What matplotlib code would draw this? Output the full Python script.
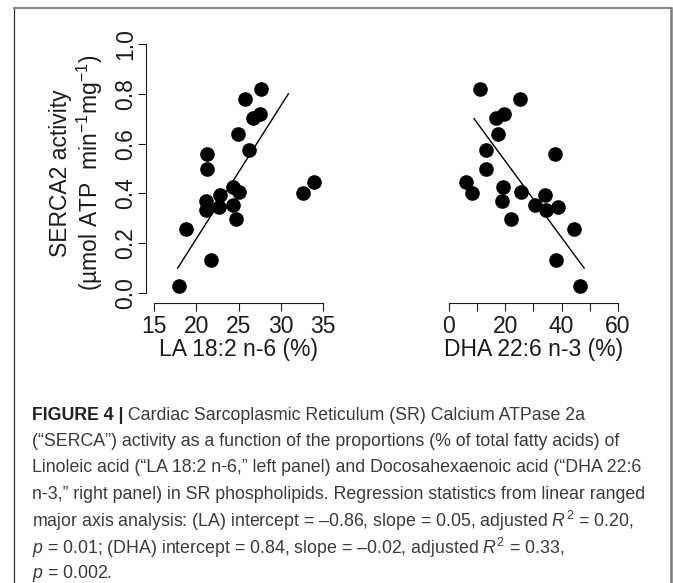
import matplotlib
matplotlib.use("Agg")
import matplotlib.pyplot as plt
from matplotlib import font_manager
from matplotlib.lines import Line2D

# SERCA2 activity, one value per sample, shared by both panels
serca = [0.03, 0.133, 0.256, 0.297, 0.334, 0.347, 0.354, 0.37, 0.395, 0.40, 0.405,
         0.427, 0.447, 0.50, 0.558, 0.574, 0.639, 0.703, 0.718, 0.78, 0.82]
# LA 18:2 n-6 (%) for the same samples
la = [18.0, 21.8, 18.75, 24.7, 21.16, 22.74, 24.3, 21.1, 22.8, 32.6, 25.0,
      24.3, 33.96, 21.3, 21.24, 26.2, 24.95, 26.7, 27.56, 25.8, 27.64]
# DHA 22:6 n-3 (%) for the same samples
dha = [46.7, 37.9, 44.3, 22.2, 34.5, 38.7, 30.4, 18.8, 34.2, 8.3, 25.6,
       19.3, 6.1, 13.2, 37.8, 13.0, 17.5, 16.6, 19.5, 25.1, 10.9]

# fitted RMA lines (end points as drawn)
la_fit_x = [17.8, 30.9]
la_fit_y = [0.10, 0.80]
dha_fit_x = [8.9, 48.0]
dha_fit_y = [0.70, 0.10]

la_ticks = [15, 20, 25, 30, 35]
dha_ticks = [0, 10, 20, 30, 40, 50, 60]
dha_ticklabels = ["0", "", "20", "", "40", "", "60"]
y_ticks = [0.0, 0.2, 0.4, 0.6, 0.8, 1.0]

caption_lines = [
    " Cardiac Sarcoplasmic Reticulum (SR) Calcium ATPase 2a",
    "(“SERCA”) activity as a function of the proportions (% of total fatty acids) of",
    "Linoleic acid (“LA 18:2 n-6,” left panel) and Docosahexaenoic acid (“DHA 22:6",
    "n-3,” right panel) in SR phospholipids. Regression statistics from linear ranged",
    r"major axis analysis: (LA) intercept = –0.86, slope = 0.05, adjusted $R^2$ = 0.20,",
    r"$p$ = 0.01; (DHA) intercept = 0.84, slope = –0.02, adjusted $R^2$ = 0.33,",
    r"$p$ = 0.002.",
]

names = {f.name for f in font_manager.fontManager.ttflist}
if "Liberation Sans Narrow" in names:
    cap_family, cap_size = "Liberation Sans Narrow", 15.6
else:
    cap_family, cap_size = "Liberation Sans", 12.8

plt.rcParams["font.family"] = ["Liberation Sans", "DejaVu Sans"]
plt.rcParams["mathtext.fontset"] = "custom"
plt.rcParams["mathtext.rm"] = "Liberation Sans"
plt.rcParams["mathtext.it"] = cap_family + ":italic"
plt.rcParams["mathtext.bf"] = "Liberation Sans:bold"

W, H = 673, 583
fig = plt.figure(figsize=(W / 100, H / 100), dpi=100)


def px_rect(left, top, width, height):
    return [left / W, 1 - (top + height) / H, width / W, height / H]


ink = "#1c1c1c"
fs = 16.5

ax1 = fig.add_axes(px_rect(146, 34, 184.2, 269))
ax2 = fig.add_axes(px_rect(442.2, 34, 182.5, 269))

ax1.plot(la, serca, "o", ms=9.5, color="black")
ax1.plot(la_fit_x, la_fit_y, color="black", lw=1.0)
ax2.plot(dha, serca, "o", ms=9.5, color="black")
ax2.plot(dha_fit_x, dha_fit_y, color="black", lw=1.0)

ax1.set_xlim(14.05, 35.85)
ax2.set_xlim(-2.4, 62.4)
for ax in (ax1, ax2):
    ax.set_ylim(-0.04, 1.04)
    ax.patch.set_visible(False)
    ax.spines["top"].set_visible(False)
    ax.spines["right"].set_visible(False)
    for s in ax.spines.values():
        s.set_linewidth(0.8)
        s.set_color(ink)
    ax.tick_params(direction="out", length=5.5, width=0.8, color=ink,
                   labelsize=fs, labelcolor=ink)
    ax.tick_params(axis="x", pad=2.8)

ax1.set_xticks(la_ticks)
ax1.spines["bottom"].set_bounds(15, 35)
ax1.spines["left"].set_bounds(0, 1)
ax1.set_yticks(y_ticks)
ax1.set_yticklabels([f"{v:.1f}" for v in y_ticks])
ax1.tick_params(axis="y", pad=1.0)
for lab in ax1.get_yticklabels():
    lab.set_rotation(90)
    lab.set_va("center")

ax2.set_xticks(dha_ticks)
ax2.set_xticklabels(dha_ticklabels)
ax2.spines["bottom"].set_bounds(0, 60)
ax2.spines["left"].set_visible(False)
ax2.set_yticks([])

ax1.set_xlabel("LA 18:2 n-6 (%)", fontsize=fs, color=ink, va="center")
ax1.xaxis.set_label_coords(0.5, -0.172)
ax2.set_xlabel("DHA 22:6 n-3 (%)", fontsize=fs, color=ink, va="center")
ax2.xaxis.set_label_coords(0.5, -0.172)

# two-line y label, as R's mtext puts it
fig.text(61 / W, 1 - 173 / H, "SERCA2 activity", rotation=90,
         ha="center", va="center", fontsize=fs, color=ink)
fig.text(90 / W, 1 - 173 / H, r"(µmol ATP  min$^{-1}$mg$^{-1}$)", rotation=90,
         ha="center", va="center", fontsize=fs, color=ink)

# caption
cap_x = 32 / W
line_y0 = 415
line_gap = 26.5
head = fig.text(cap_x, 1 - line_y0 / H, "FIGURE 4 |", family=cap_family,
                weight="bold", fontsize=cap_size, color="#222222", va="center")
fig.canvas.draw()
bb = head.get_window_extent(renderer=fig.canvas.get_renderer())
for i, line in enumerate(caption_lines):
    x = bb.x1 / W if i == 0 else cap_x
    fig.text(x, 1 - (line_y0 + i * line_gap) / H, line, family=cap_family,
             fontsize=cap_size, color="#3a3a3a", va="center")

# frame around the figure
top = 1 - 7.5 / H
fig.add_artist(Line2D([14 / W, 14 / W], [0, top], color="#333333", lw=0.9))
fig.add_artist(Line2D([14 / W, 671 / W], [top, top], color="#8a8a8a", lw=1.5))
fig.add_artist(Line2D([671 / W, 671 / W], [0, top], color="#7a7a7a", lw=1.8))

fig.savefig("out.png", dpi=100)
